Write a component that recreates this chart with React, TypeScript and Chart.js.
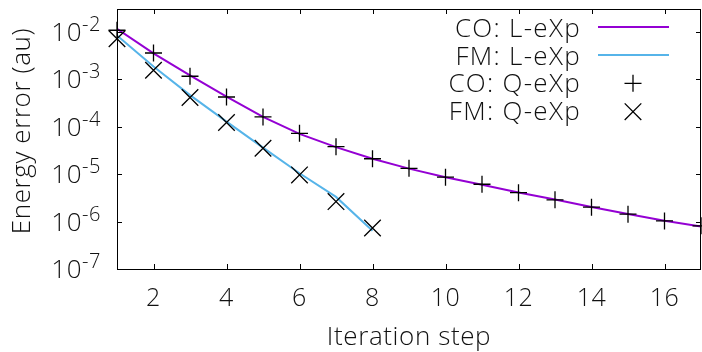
import React, { useEffect, useRef } from 'react';
import { Chart, registerables } from 'chart.js';

Chart.register(...registerables);

// ---- data ----
const iterations = [1, 2, 3, 4, 5, 6, 7, 8, 9, 10, 11, 12, 13, 14, 15, 16, 17];
const fmIterations = [1, 2, 3, 4, 5, 6, 7, 8];
const coLExp = [1.15e-2, 3.5e-3, 1.2e-3, 4.3e-4, 1.6e-4, 7.0e-5, 3.7e-5, 2.1e-5, 1.3e-5, 8.6e-6, 5.95e-6, 4.1e-6, 2.9e-6, 2.02e-6, 1.44e-6, 1.04e-6, 7.9e-7];
const fmLExp = [8.3e-3, 1.85e-3, 4.6e-4, 1.27e-4, 3.6e-5, 1.04e-5, 3.3e-6, 6.4e-7];
const coQExp = [1.07e-2, 3.55e-3, 1.15e-3, 4.2e-4, 1.6e-4, 7.2e-5, 3.77e-5, 2.1e-5, 1.32e-5, 8.6e-6, 6.1e-6, 4.06e-6, 2.86e-6, 2.01e-6, 1.43e-6, 1.03e-6, 8.1e-7];
const fmQExp = [7.1e-3, 1.54e-3, 4.1e-4, 1.22e-4, 3.5e-5, 9.6e-6, 2.63e-6, 7.3e-7];
const xTickValues = [2, 4, 6, 8, 10, 12, 14, 16];
const yTickExponents = [-7, -6, -5, -4, -3, -2];
const legendLabels = ['CO: L-eXp', 'FM: L-eXp', 'CO: Q-eXp', 'FM: Q-eXp'];
const xTitle = 'Iteration step';
const yTitle = 'Energy error (au)';

const PURPLE = '#9400d3';
const BLUE = '#56b4e9';
const FAMILY = '"Open Sans", "Noto Sans", sans-serif';
const W = 300;

const decorPlugin = {
  id: 'decor',
  afterDraw(chart: any) {
    const ctx = chart.ctx as any;
    const { left, right, top, bottom } = chart.chartArea;
    const xs = chart.scales.x;
    const ys = chart.scales.y;
    ctx.save();
    // frame
    ctx.strokeStyle = '#000';
    ctx.lineWidth = 1;
    ctx.strokeRect(Math.round(left) + 0.5, Math.round(top) + 0.5, Math.round(right - left) - 1, Math.round(bottom - top));
    const tl = 5;
    ctx.beginPath();
    xTickValues.forEach((v) => {
      const px = Math.round(xs.getPixelForValue(v)) + 0.5;
      ctx.moveTo(px, bottom);
      ctx.lineTo(px, bottom - tl);
      ctx.moveTo(px, top);
      ctx.lineTo(px, top + tl);
    });
    yTickExponents.forEach((e) => {
      const py = Math.round(ys.getPixelForValue(Math.pow(10, e))) + 0.5;
      ctx.moveTo(left, py);
      ctx.lineTo(left + tl, py);
      ctx.moveTo(right, py);
      ctx.lineTo(right - tl, py);
    });
    ctx.stroke();

    ctx.fillStyle = '#111';
    ctx.letterSpacing = '0.5px';
    // x tick labels
    ctx.font = `${W} 25px ${FAMILY}`;
    ctx.textAlign = 'center';
    ctx.textBaseline = 'alphabetic';
    xTickValues.forEach((v) => {
      ctx.fillText(String(v), xs.getPixelForValue(v), 306);
    });
    // y tick labels
    yTickExponents.forEach((e) => {
      const py = ys.getPixelForValue(Math.pow(10, e));
      ctx.font = `${W} 26px ${FAMILY}`;
      ctx.textAlign = 'right';
      ctx.fillText('10', 82, py + 9);
      ctx.font = `${W} 20px ${FAMILY}`;
      ctx.textAlign = 'left';
      ctx.fillText(String(e), 82, py - 1);
    });
    // titles
    ctx.letterSpacing = '0.6px';
    ctx.font = `${W} 26px ${FAMILY}`;
    ctx.textAlign = 'center';
    ctx.fillText(xTitle, (left + right) / 2, 345);
    ctx.save();
    ctx.translate(30, 131);
    ctx.rotate(-Math.PI / 2);
    ctx.fillText(yTitle, 0, 0);
    ctx.restore();

    // legend
    ctx.letterSpacing = '1.3px';
    const textRight = 581;
    const baselines = [36.5, 64.5, 92.3, 120];
    ctx.textAlign = 'right';
    legendLabels.forEach((lab, i) => {
      ctx.fillText(lab, textRight, baselines[i]);
    });
    ctx.letterSpacing = '0px';
    ctx.lineWidth = 2;
    ctx.strokeStyle = PURPLE;
    ctx.beginPath();
    ctx.moveTo(598, 27);
    ctx.lineTo(669, 27);
    ctx.stroke();
    ctx.strokeStyle = BLUE;
    ctx.beginPath();
    ctx.moveTo(598, 55);
    ctx.lineTo(669, 55);
    ctx.stroke();
    ctx.strokeStyle = '#000';
    ctx.lineWidth = 1.3;
    const cx = 633;
    let cy = 83.3;
    ctx.beginPath();
    ctx.moveTo(cx - 8.5, cy);
    ctx.lineTo(cx + 8.5, cy);
    ctx.moveTo(cx, cy - 8.5);
    ctx.lineTo(cx, cy + 8.5);
    cy = 111.7;
    const d = 8.3;
    ctx.moveTo(cx - d, cy - d);
    ctx.lineTo(cx + d, cy + d);
    ctx.moveTo(cx - d, cy + d);
    ctx.lineTo(cx + d, cy - d);
    ctx.stroke();
    ctx.restore();
  },
};

export default function App() {
  const ref = useRef<HTMLCanvasElement>(null);
  useEffect(() => {
    const canvas = ref.current!;
    const chart = new Chart(canvas, {
      type: 'line',
      data: {
        datasets: [
          {
            label: legendLabels[2],
            data: iterations.map((x, i) => ({ x, y: coQExp[i] })),
            showLine: false,
            pointStyle: 'cross',
            pointRadius: 8.5,
            pointBorderWidth: 1.3,
            pointBorderColor: '#000',
            borderColor: '#000',
            backgroundColor: '#000',
            clip: false,
            order: 0,
          },
          {
            label: legendLabels[3],
            data: fmIterations.map((x, i) => ({ x, y: fmQExp[i] })),
            showLine: false,
            pointStyle: 'crossRot',
            pointRadius: 11.7,
            pointBorderWidth: 1.3,
            pointBorderColor: '#000',
            borderColor: '#000',
            backgroundColor: '#000',
            clip: false,
            order: 1,
          },
          {
            label: legendLabels[0],
            data: iterations.map((x, i) => ({ x, y: coLExp[i] })),
            borderColor: PURPLE,
            borderWidth: 2,
            pointRadius: 0,
            tension: 0,
            order: 2,
          },
          {
            label: legendLabels[1],
            data: fmIterations.map((x, i) => ({ x, y: fmLExp[i] })),
            borderColor: BLUE,
            borderWidth: 2,
            pointRadius: 0,
            tension: 0,
            order: 3,
          },
        ],
      },
      options: {
        animation: false,
        responsive: false,
        devicePixelRatio: 1,
        layout: { autoPadding: false, padding: { top: 9, right: 1, left: 0, bottom: 0 } },
        plugins: { legend: { display: false }, tooltip: { enabled: false } },
        events: [],
        scales: {
          x: {
            type: 'linear',
            min: 1,
            max: 17,
            offset: false,
            ticks: { display: false },
            grid: { display: false },
            border: { display: false },
            afterFit: (s: any) => {
              s.height = 83;
              s.paddingLeft = 0;
              s.paddingRight = 0;
            },
          },
          y: {
            type: 'logarithmic',
            min: 1e-7,
            max: 0.03,
            ticks: { display: false },
            grid: { display: false },
            border: { display: false },
            afterFit: (s: any) => {
              s.width = 117;
              s.paddingTop = 0;
              s.paddingBottom = 0;
            },
          },
        },
      },
      plugins: [decorPlugin],
    } as any);
    return () => chart.destroy();
  }, []);
  return (
    <div style={{ position: 'absolute', left: 0, top: 0, width: 702, height: 352, background: '#fff' }}>
      <canvas ref={ref} width={702} height={352} style={{ display: 'block' }} />
    </div>
  );
}
